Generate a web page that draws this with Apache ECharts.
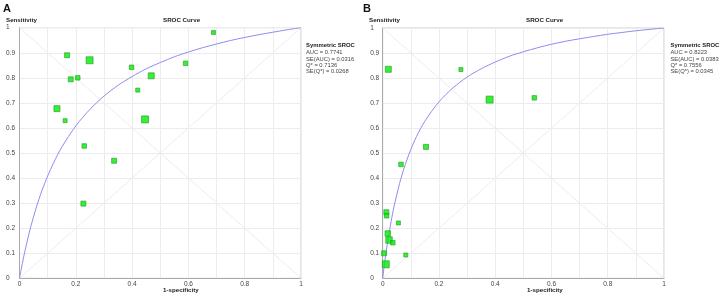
<!DOCTYPE html>
<html>
<head>
<meta charset="utf-8">
<script src="https://cdn.jsdelivr.net/npm/echarts@6/dist/echarts.min.js"></script>
<style>
  html, body { margin: 0; padding: 0; background: #fff; }
  #main { width: 722px; height: 295px; }
</style>
</head>
<body>
<div id="main"></div>
<script>
// study points panel A: [1-specificity, sensitivity, square size]
var studiesA = [
  [0.689, 0.981, 4], [0.169, 0.890, 5], [0.249, 0.870, 7], [0.398, 0.842, 4.5],
  [0.590, 0.858, 4.5], [0.182, 0.794, 5], [0.207, 0.800, 4.5], [0.468, 0.808, 6],
  [0.420, 0.751, 4], [0.133, 0.677, 6], [0.162, 0.629, 4], [0.446, 0.634, 7],
  [0.230, 0.528, 4.5], [0.336, 0.469, 5], [0.227, 0.298, 5]
];
// study points panel B
var studiesB = [
  [0.020, 0.835, 6], [0.278, 0.834, 4], [0.380, 0.714, 7], [0.539, 0.721, 4.5],
  [0.154, 0.525, 5], [0.065, 0.455, 4.5], [0.013, 0.264, 5], [0.014, 0.250, 4.5],
  [0.056, 0.221, 4], [0.018, 0.179, 5.5], [0.0225, 0.153, 6.5], [0.036, 0.142, 4.5],
  [0.005, 0.100, 5], [0.082, 0.093, 4], [0.011, 0.056, 7]
];
// SROC curves read along the x axis
var curveX = [0, 0.005, 0.01, 0.02, 0.03, 0.04, 0.06, 0.08, 0.1, 0.12, 0.15, 0.2, 0.25, 0.3, 0.35,
  0.4, 0.45, 0.5, 0.55, 0.6, 0.65, 0.7, 0.75, 0.8, 0.85, 0.9, 0.95, 1];
var curveA = [0, 0.030, 0.059, 0.112, 0.161, 0.206, 0.284, 0.351, 0.408, 0.458, 0.523, 0.608, 0.674, 0.727, 0.770,
  0.805, 0.836, 0.861, 0.884, 0.903, 0.920, 0.935, 0.949, 0.961, 0.972, 0.982, 0.9916, 1];
var curveB = [0, 0.046, 0.088, 0.163, 0.228, 0.285, 0.379, 0.454, 0.515, 0.566, 0.628, 0.705, 0.761, 0.804, 0.837,
  0.864, 0.887, 0.905, 0.921, 0.935, 0.947, 0.957, 0.966, 0.975, 0.982, 0.989, 0.9945, 1];
var diag1 = [[0, 0], [1, 1]];
var diag2 = [[0, 1], [1, 0]];
var statsA = ['AUC = 0.7741', 'SE(AUC) = 0.0316', 'Q* = 0.7136', 'SE(Q*) = 0.0268'];
var statsB = ['AUC = 0.8223', 'SE(AUC) = 0.0383', 'Q* = 0.7556', 'SE(Q*) = 0.0345'];

var FONT = 'Liberation Sans, Arial, sans-serif';

function zip(xs, ys) {
  var out = [];
  for (var i = 0; i < xs.length; i++) out.push([xs[i], ys[i]]);
  return out;
}

function xAxisFor(idx) {
  return {
    type: 'value', gridIndex: idx, min: 0, max: 1, interval: 0.1,
    axisLine: { show: true, lineStyle: { color: '#aaa', width: 1 } },
    axisTick: { show: false },
    splitLine: { show: true, lineStyle: { color: '#ececec', width: 1 } },
    axisLabel: {
      fontSize: 6.5, color: '#444', fontFamily: FONT, margin: 2,
      formatter: function (v) {
        var k = Math.round(v * 10);
        return k % 2 === 0 ? String(+(k / 10).toFixed(1)) : '';
      }
    }
  };
}
function yAxisFor(idx, margin) {
  return {
    type: 'value', gridIndex: idx, min: 0, max: 1, interval: 0.1,
    axisLine: { show: true, lineStyle: { color: '#aaa', width: 1 } },
    axisTick: { show: false },
    splitLine: { show: true, lineStyle: { color: '#ececec', width: 1 } },
    axisLabel: {
      fontSize: 6.5, color: '#444', fontFamily: FONT, margin: margin, align: 'left',
      formatter: function (v) { return String(+v.toFixed(1)); }
    }
  };
}

function panelSeries(idx, curve, studies) {
  var diagStyle = { color: '#ececec', width: 1 };
  return [
    { type: 'line', xAxisIndex: idx, yAxisIndex: idx, data: diag1, symbol: 'none', lineStyle: diagStyle, silent: true, z: 1 },
    { type: 'line', xAxisIndex: idx, yAxisIndex: idx, data: diag2, symbol: 'none', lineStyle: diagStyle, silent: true, z: 1 },
    { type: 'line', xAxisIndex: idx, yAxisIndex: idx, data: zip(curveX, curve), symbol: 'none', smooth: 0.3,
      lineStyle: { color: '#8c8cf2', width: 1 }, z: 2 },
    { type: 'scatter', xAxisIndex: idx, yAxisIndex: idx, symbol: 'rect',
      data: studies.map(function (s) { return [s[0], s[1], s[2]]; }),
      symbolSize: function (v) { return v[2]; },
      itemStyle: { color: '#00ee00', borderColor: '#2c9a2c', borderWidth: 0.8 }, z: 3 }
  ];
}

function textEl(x, y, txt, opts) {
  return {
    type: 'text', left: x, top: y,
    style: Object.assign({ text: txt, fontSize: 6.2, fill: '#333', fontFamily: FONT }, opts || {})
  };
}

function legendBlock(x, stats) {
  var els = [textEl(x, 42.8, 'Symmetric SROC', { fontSize: 5.9, fontWeight: 'bold', fill: '#222' })];
  for (var i = 0; i < stats.length; i++) {
    els.push(textEl(x, 49.8 + i * 6.1, stats[i], { fontSize: 5.8, fill: '#444' }));
  }
  return els;
}

var chart = echarts.init(document.getElementById('main'), null, { renderer: 'canvas' });
var option = {
  backgroundColor: '#fff',
  animation: false,
  grid: [
    { left: 19.5, top: 27.7, width: 281.5, height: 250.6, show: true, borderColor: '#ccc', borderWidth: 1 },
    { left: 382.7, top: 28, width: 281.3, height: 250.3, show: true, borderColor: '#ccc', borderWidth: 1 }
  ],
  xAxis: [xAxisFor(0), xAxisFor(1)],
  yAxis: [yAxisFor(0, 13.5), yAxisFor(1, 12.5)],
  series: panelSeries(0, curveA, studiesA).concat(panelSeries(1, curveB, studiesB)),
  graphic: [
    textEl(3, 3, 'A', { fontSize: 11, fontWeight: 'bold', fill: '#111' }),
    textEl(363, 3, 'B', { fontSize: 11, fontWeight: 'bold', fill: '#111' }),
    textEl(6, 17.5, 'Sensitivity', { fontWeight: 'bold', fill: '#222' }),
    textEl(369, 17.5, 'Sensitivity', { fontWeight: 'bold', fill: '#222' }),
    textEl(163, 17.5, 'SROC Curve', { fontWeight: 'bold', fill: '#222', textAlign: 'center' }),
    textEl(526, 17.5, 'SROC Curve', { fontWeight: 'bold', fill: '#222', textAlign: 'center' }),
    textEl(163, 286.8, '1-specificity', { fontWeight: 'bold', fill: '#222', textAlign: 'center' }),
    textEl(527, 286.8, '1-specificity', { fontWeight: 'bold', fill: '#222', textAlign: 'center' })
  ].concat(legendBlock(306, statsA), legendBlock(670.5, statsB))
};
chart.setOption(option);
</script>
</body>
</html>
